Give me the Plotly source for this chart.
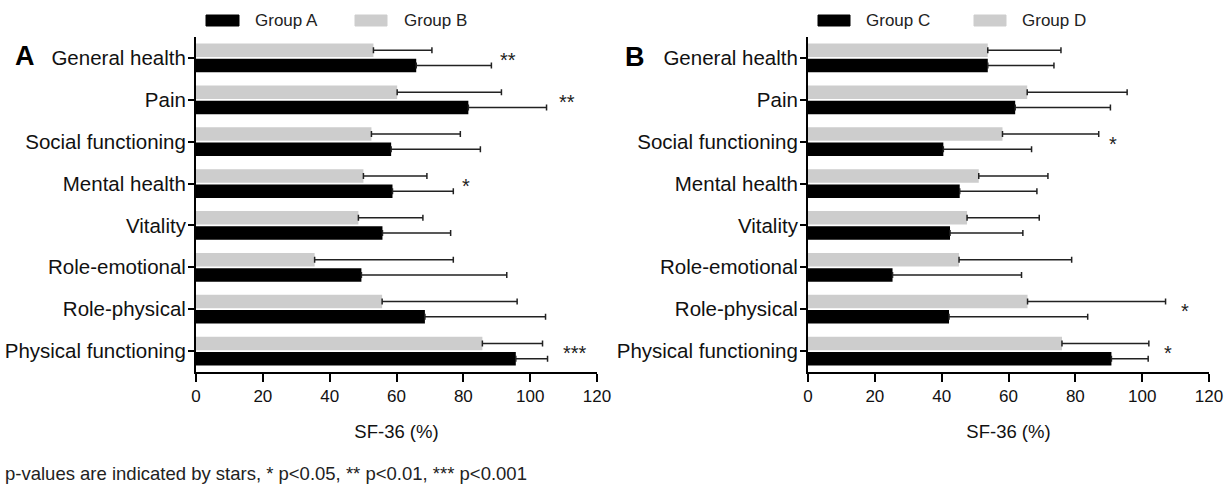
import plotly.graph_objects as go

W, H = 1230, 496

categories = ["General health", "Pain", "Social functioning", "Mental health",
              "Vitality", "Role-emotional", "Role-physical", "Physical functioning"]

# Panel A
group_a_mean = [65.9, 81.5, 58.4, 58.8, 55.8, 49.5, 68.5, 95.7]
group_a_err_end = [88.4, 104.9, 85.1, 77.0, 76.2, 93.0, 104.6, 105.2]
group_b_mean = [53.1, 60.2, 52.5, 50.1, 48.6, 35.5, 55.7, 85.7]
group_b_err_end = [70.6, 91.4, 79.1, 69.1, 67.9, 77.0, 96.1, 103.7]
stars_a = ["**", "**", "", "*", "", "", "", "***"]
stars_a_x = [93.4, 111.1, 0, 80.7, 0, 0, 0, 113.5]

# Panel B
group_c_mean = [53.8, 62.0, 40.5, 45.4, 42.5, 25.3, 42.2, 90.8]
group_c_err_end = [73.6, 90.5, 66.9, 68.5, 64.3, 63.9, 83.7, 101.8]
group_d_mean = [53.8, 65.6, 58.2, 51.1, 47.6, 45.2, 65.7, 76.0]
group_d_err_end = [75.7, 95.5, 87.0, 71.8, 69.2, 78.9, 107.0, 102.0]
stars_b = ["", "", "*", "", "", "", "*", "*"]
stars_b_x = [0, 0, 91.4, 0, 0, 0, 112.9, 107.7]

x_ticks = [0, 20, 40, 60, 80, 100, 120]
x_title = "SF-36 (%)"
footnote = "p-values are indicated by stars, * p<0.05, ** p<0.01, *** p<0.001"

BLACK = "#000000"
GRAY = "#cdcdcd"
FONT = "Liberation Sans, Arial, sans-serif"


def px_x(p):
    return p / W


def px_y(p):
    return 1 - p / H


# plot area pixel positions
A_L, A_R = 196, 597
B_L, B_R = 808, 1209
TOP, BOT = 37, 372

fig = go.Figure()


def add_panel(xa, ya, light_mean, light_end, dark_mean, dark_end):
    fig.add_trace(go.Bar(
        y=categories, x=light_mean, orientation="h", marker_color=GRAY,
        marker_line_width=0, xaxis=xa, yaxis=ya, showlegend=False,
        error_x=dict(type="data", symmetric=False,
                     array=[e - m for e, m in zip(light_end, light_mean)],
                     arrayminus=[0] * len(light_mean),
                     color="#222222", thickness=1.5, width=3),
    ))
    fig.add_trace(go.Bar(
        y=categories, x=dark_mean, orientation="h", marker_color=BLACK,
        marker_line_width=0, xaxis=xa, yaxis=ya, showlegend=False,
        error_x=dict(type="data", symmetric=False,
                     array=[e - m for e, m in zip(dark_end, dark_mean)],
                     arrayminus=[0] * len(dark_mean),
                     color="#222222", thickness=1.5, width=3),
    ))


add_panel("x", "y", group_b_mean, group_b_err_end, group_a_mean, group_a_err_end)
add_panel("x2", "y2", group_d_mean, group_d_err_end, group_c_mean, group_c_err_end)

xaxis_common = dict(
    range=[0, 120], tickvals=x_ticks, ticks="outside", ticklen=8, tickwidth=2,
    tickcolor="#000", showline=True, linecolor="#000", linewidth=2,
    showgrid=False, zeroline=False, automargin=False,
    tickfont=dict(family=FONT, size=17, color="#111"),
    title=dict(text=x_title, font=dict(family=FONT, size=18.5, color="#111"), standoff=20),
)
yaxis_common = dict(
    type="category", categoryarray=categories, categoryorder="array",
    range=[7.5, -0.5], ticks="outside", ticklen=6, tickwidth=2,
    tickcolor="#000", showline=True, linecolor="#000", linewidth=2,
    showgrid=False, zeroline=False, automargin=False, ticklabelstandoff=-2,
    tickfont=dict(family=FONT, size=20.5, color="#111"),
)

fig.update_layout(
    width=W, height=H,
    margin=dict(l=0, r=0, t=0, b=0),
    paper_bgcolor="white", plot_bgcolor="white",
    barmode="group", bargap=0.27, bargroupgap=0.12,
    showlegend=False,
    xaxis=dict(domain=[px_x(A_L), px_x(A_R)], anchor="y", **xaxis_common),
    yaxis=dict(domain=[px_y(BOT), px_y(TOP)], anchor="x", **yaxis_common),
    xaxis2=dict(domain=[px_x(B_L), px_x(B_R)], anchor="y2", **xaxis_common),
    yaxis2=dict(domain=[px_y(BOT), px_y(TOP)], anchor="x2", **yaxis_common),
)

annotations = []
shapes = []

# star annotations
for xa, ya, stars, sx in (("x", "y", stars_a, stars_a_x), ("x2", "y2", stars_b, stars_b_x)):
    for cat, s, x in zip(categories, stars, sx):
        if s:
            annotations.append(dict(
                x=x, y=cat, xref=xa, yref=ya, text=s, showarrow=False,
                xanchor="center", yanchor="middle",
                font=dict(family=FONT, size=20, color="#222"), yshift=-2,
            ))

# panel letters
for letter, lx, ly in (("A", 25, 56), ("B", 635, 57)):
    annotations.append(dict(x=px_x(lx), y=px_y(ly), xref="paper", yref="paper",
                            text="<b>%s</b>" % letter, showarrow=False,
                            xanchor="center", yanchor="middle",
                            font=dict(family=FONT, size=27, color="#000")))

# custom legends
legend_items = [
    ("Group A", BLACK, 206, 239, 253),
    ("Group B", GRAY, 355, 387, 402),
    ("Group C", BLACK, 818, 850, 864),
    ("Group D", GRAY, 974, 1006, 1020),
]
for label, color, x0, x1, tx in legend_items:
    shapes.append(dict(type="rect", xref="paper", yref="paper",
                       x0=px_x(x0), x1=px_x(x1), y0=px_y(26), y1=px_y(15),
                       fillcolor=color, line=dict(color=color, width=1)))
    annotations.append(dict(x=px_x(tx), y=px_y(20.5), xref="paper", yref="paper",
                            text=label, showarrow=False, xanchor="left", yanchor="middle",
                            font=dict(family=FONT, size=17, color="#222")))

# footnote
annotations.append(dict(x=px_x(3), y=px_y(473), xref="paper", yref="paper", text=footnote,
                        showarrow=False, xanchor="left", yanchor="middle",
                        font=dict(family=FONT, size=18.5, color="#222")))

fig.update_layout(annotations=annotations, shapes=shapes)

fig.write_html("out.html", config={"displayModeBar": False},
               post_script="document.body.style.margin='0';document.body.style.overflow='hidden';")
